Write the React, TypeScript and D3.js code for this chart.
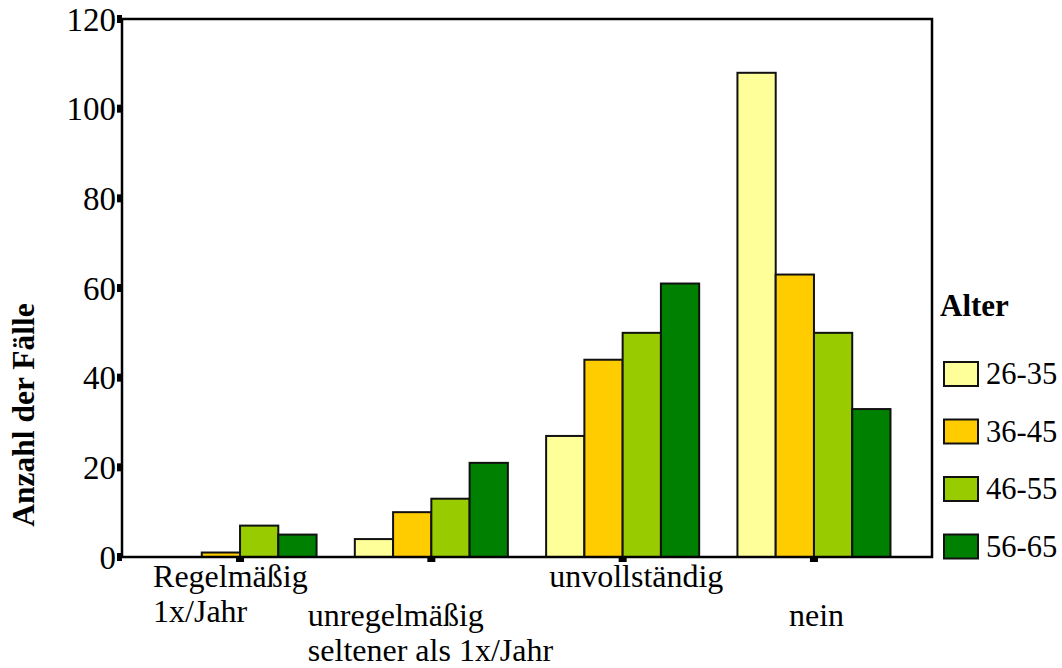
import React from "react";
import * as d3 from "d3";

// Categories (x axis), wrapped into display lines
const categories = ["Regelmäßig 1x/Jahr", "unregelmäßig seltener als 1x/Jahr", "unvollständig", "nein"];
const categoryLines = [["Regelmäßig", "1x/Jahr"], ["unregelmäßig", "seltener als 1x/Jahr"], ["unvollständig"], ["nein"]];

// Age groups (series) and their counts per category
const ageGroups = ["26-35", "36-45", "46-55", "56-65"];
const counts26to35 = [0, 4, 27, 108];
const counts36to45 = [1, 10, 44, 63];
const counts46to55 = [7, 13, 50, 50];
const counts56to65 = [5, 21, 61, 33];
const seriesColors = ["#FFFF99", "#FFCC00", "#99CC00", "#008000"];

const yTicks = [0, 20, 40, 60, 80, 100, 120];

const W = 1062;
const H = 668;
const M = { left: 122, right: 932, top: 19, bottom: 557 };

// label placement: horizontal shift of the label block and which row it sits in
const labelShift = [-87, -123.5, -73.5, -25];
const labelRow = [0, 1, 0, 1];

const serif = "'Liberation Serif', 'DejaVu Serif', serif";

export default function App() {
  const series = [counts26to35, counts36to45, counts46to55, counts56to65];

  const x = d3.scaleBand<string>().domain(categories).range([M.left, M.right]).paddingInner(0.2).paddingOuter(0.217);
  const xInner = d3.scaleBand<string>().domain(ageGroups).range([0, x.bandwidth()]);
  const y = d3.scaleLinear().domain([0, 120]).range([M.bottom, M.top]);

  return (
    <svg width={W} height={H} style={{ position: "absolute", left: 0, top: 0, background: "#fff", fontFamily: serif }}>
      {/* bars */}
      {categories.map((c, ci) => (
        <g key={c}>
          {ageGroups.map((g, si) => {
            const v = series[si][ci];
            const bx = (x(c) as number) + (xInner(g) as number);
            return (
              <rect
                key={g}
                x={bx}
                y={y(v)}
                width={xInner.bandwidth()}
                height={y(0) - y(v)}
                fill={seriesColors[si]}
                stroke="#111"
                strokeWidth={2}
              />
            );
          })}
        </g>
      ))}

      {/* frame */}
      <rect x={M.left} y={M.top} width={M.right - M.left} height={M.bottom - M.top} fill="none" stroke="#000" strokeWidth={2.5} />

      {/* y ticks and labels */}
      {yTicks.map((t) => (
        <g key={t}>
          <rect x={M.left - 5} y={y(t) - 4} width={5} height={8} fill="#000" />
          <text x={M.left - 6} y={y(t)} dy="0.35em" textAnchor="end" style={{ fontFamily: serif, fontSize: 33 }}>
            {t}
          </text>
        </g>
      ))}

      {/* x ticks */}
      {categories.map((c) => {
        const cx = (x(c) as number) + x.bandwidth() / 2;
        return <rect key={c} x={cx - 4} y={M.bottom} width={8} height={5} fill="#000" />;
      })}

      {/* x labels */}
      {categories.map((c, ci) => {
        const cx = (x(c) as number) + x.bandwidth() / 2;
        const base = 587 + labelRow[ci] * 39;
        return (
          <text key={c} x={cx + labelShift[ci]} y={base} style={{ fontFamily: serif, fontSize: 32 }}>
            {categoryLines[ci].map((ln, li) => (
              <tspan key={li} x={cx + labelShift[ci]} y={base + li * 35}>
                {ln}
              </tspan>
            ))}
          </text>
        );
      })}

      {/* y axis title */}
      <text
        transform="translate(34,415) rotate(-90)"
        textAnchor="middle"
        style={{ fontFamily: serif, fontSize: 31.5, fontWeight: "bold" }}
      >
        Anzahl der Fälle
      </text>

      {/* legend */}
      <text x={940} y={316} style={{ fontFamily: serif, fontSize: 31, fontWeight: "bold" }}>
        Alter
      </text>
      {ageGroups.map((g, si) => {
        const ly = 374 + si * 57.5;
        return (
          <g key={g}>
            <rect x={944} y={ly - 12} width={34} height={24} fill={seriesColors[si]} stroke="#111" strokeWidth={2} />
            <text x={986} y={ly} dy="0.34em" style={{ fontFamily: serif, fontSize: 30.5 }}>
              {g}
            </text>
          </g>
        );
      })}
    </svg>
  );
}
